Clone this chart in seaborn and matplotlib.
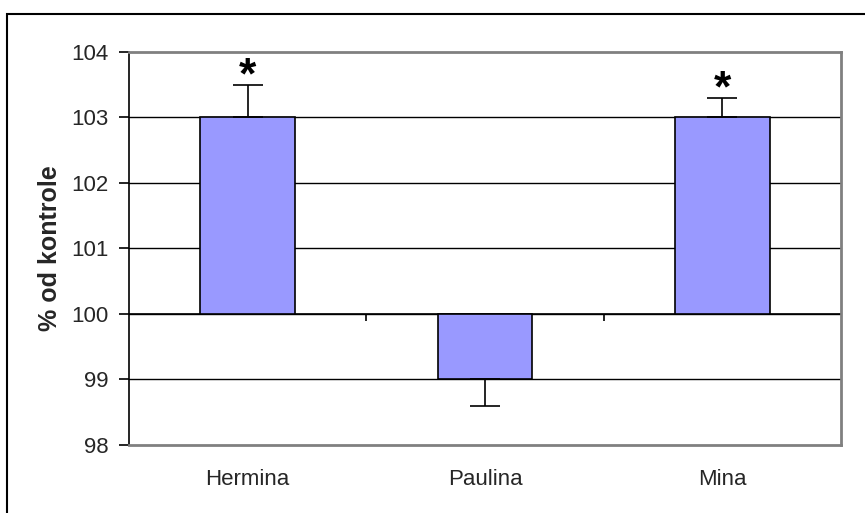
import matplotlib
matplotlib.use("Agg")
import matplotlib.pyplot as plt
import seaborn as sns
import numpy as np
import pandas as pd
from matplotlib.patches import Rectangle

categories = ["Hermina", "Paulina", "Mina"]
values = [103.0, 99.0, 103.0]
err_upper = [0.5, 0.0, 0.3]
err_lower = [0.0, 0.4, 0.0]
significant = [True, False, True]
baseline = 100.0
y_ticks = [98, 99, 100, 101, 102, 103, 104]
y_label = "% od kontrole"

sns.set_style("white")
plt.rcParams["font.family"] = ["Liberation Sans", "DejaVu Sans"]

fig = plt.figure(figsize=(8.65, 5.13), dpi=100)
ax = fig.add_axes([129 / 865, 1 - 445 / 513, (841 - 129) / 865, (445 - 52) / 513])

df = pd.DataFrame({"cat": categories, "delta": np.array(values) - baseline})
sns.barplot(data=df, x="cat", y="delta", bottom=baseline, color="#9999FF",
            saturation=1, edgecolor="black", linewidth=1.2, width=0.4,
            ax=ax, zorder=3)

xpos = np.arange(len(categories))
ax.errorbar(xpos, values, yerr=[err_lower, err_upper], fmt="none",
            ecolor="black", elinewidth=1.2, capsize=11, capthick=1.2, zorder=4)

for i, (v, up, lo, s) in enumerate(zip(values, err_upper, err_lower, significant)):
    if s:
        ax.text(i, v + up - 0.05, "*", ha="center", va="baseline",
                fontsize=32, fontweight="bold", color="black", zorder=5)

ax.set_ylim(y_ticks[0], y_ticks[-1])
ax.set_xlim(-0.5, len(categories) - 0.5)
ax.set_yticks(y_ticks)
ax.set_yticklabels([str(t) for t in y_ticks], fontsize=16)
ax.set_xticks(xpos)
ax.set_xticklabels(categories, fontsize=16)
ax.tick_params(axis="x", length=0, pad=17)
ax.tick_params(axis="y", direction="out", length=7, width=1.2, color="black",
               pad=8, left=True)
ax.set_xlabel("")
ax.set_ylabel(y_label, fontsize=18, fontweight="bold", labelpad=6)

# gridlines
for t in y_ticks[1:-1]:
    ax.axhline(t, color="black", linewidth=1.0, zorder=1)
# category axis crossing at baseline
ax.axhline(baseline, color="black", linewidth=1.2, zorder=2)
bounds = np.arange(len(categories) + 1) - 0.5
ax.vlines(bounds[1:-1], baseline - 0.1, baseline, color="black", linewidth=1.2, zorder=2)

for side in ["top", "right", "bottom"]:
    ax.spines[side].set_color("#808080")
    ax.spines[side].set_linewidth(2)
ax.spines["left"].set_color("black")
ax.spines["left"].set_linewidth(1.2)

# outer chart frame (left and top edges visible)
fig.add_artist(Rectangle((7 / 865, -0.1), 1.2, 1.1 - 13.5 / 513,
                         transform=fig.transFigure, fill=False,
                         edgecolor="black", linewidth=1.5))

fig.savefig("out.png", dpi=100)
